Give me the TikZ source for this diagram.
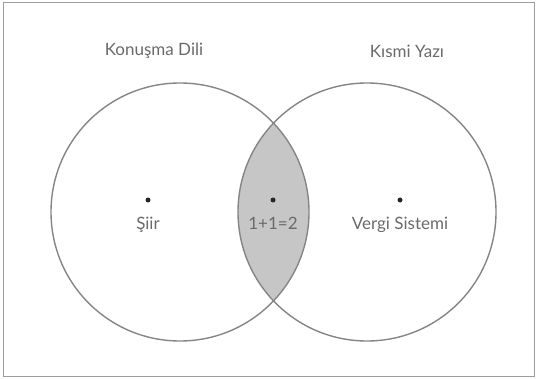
\documentclass[tikz,border=0pt]{standalone}
\usepackage{fontspec}
\setmainfont{Lato}
\usepackage{tikz}
\usetikzlibrary{positioning}

\definecolor{linegray}{HTML}{858585}
\definecolor{textgray}{HTML}{6A6A6A}
\definecolor{lensgray}{HTML}{C6C6C6}

\tikzset{
    setline/.style={draw=linegray, line width=1.4pt},
    setlabel/.style={text=textgray, font=\fontsize{17}{20}\selectfont},
    elemlabel/.style={text=textgray, font=\fontsize{17}{20}\selectfont},
    elemdot/.style={circle, fill=black!85, inner sep=0pt, minimum size=5pt}
}

\begin{document}
\begin{tikzpicture}[x=1pt, y=-1pt]
    \useasboundingbox (0,0) rectangle (537,379);
    % Outer frame
    \draw[linegray!80, line width=1pt] (3,3) rectangle (534,376);

    % Intersection: shaded lens
    \begin{scope}
        \clip (180,212) circle[radius=129pt];
        \fill[lensgray] (367,212) circle[radius=129pt];
    \end{scope}

    % The two sets
    \draw[setline] (180,212) circle[radius=129pt];
    \draw[setline] (367,212) circle[radius=129pt];

    % Set names
    \node[setlabel] (spoken) at (154,51) {Konuşma Dili};
    \node[setlabel] (partial) at (407,51) {Kısmi Yazı};

    % Elements
    \node[elemdot] (poemdot) at (148,200) {};
    \node[elemlabel, below=11pt of poemdot] (poem) {Şiir};

    \node[elemdot] (sumdot) at (273,200) {};
    \node[elemlabel, below=11pt of sumdot] (sum) {1+1=2};

    \node[elemdot] (taxdot) at (400,200) {};
    \node[elemlabel, below=11pt of taxdot] (tax) {Vergi Sistemi};
\end{tikzpicture}
\end{document}
